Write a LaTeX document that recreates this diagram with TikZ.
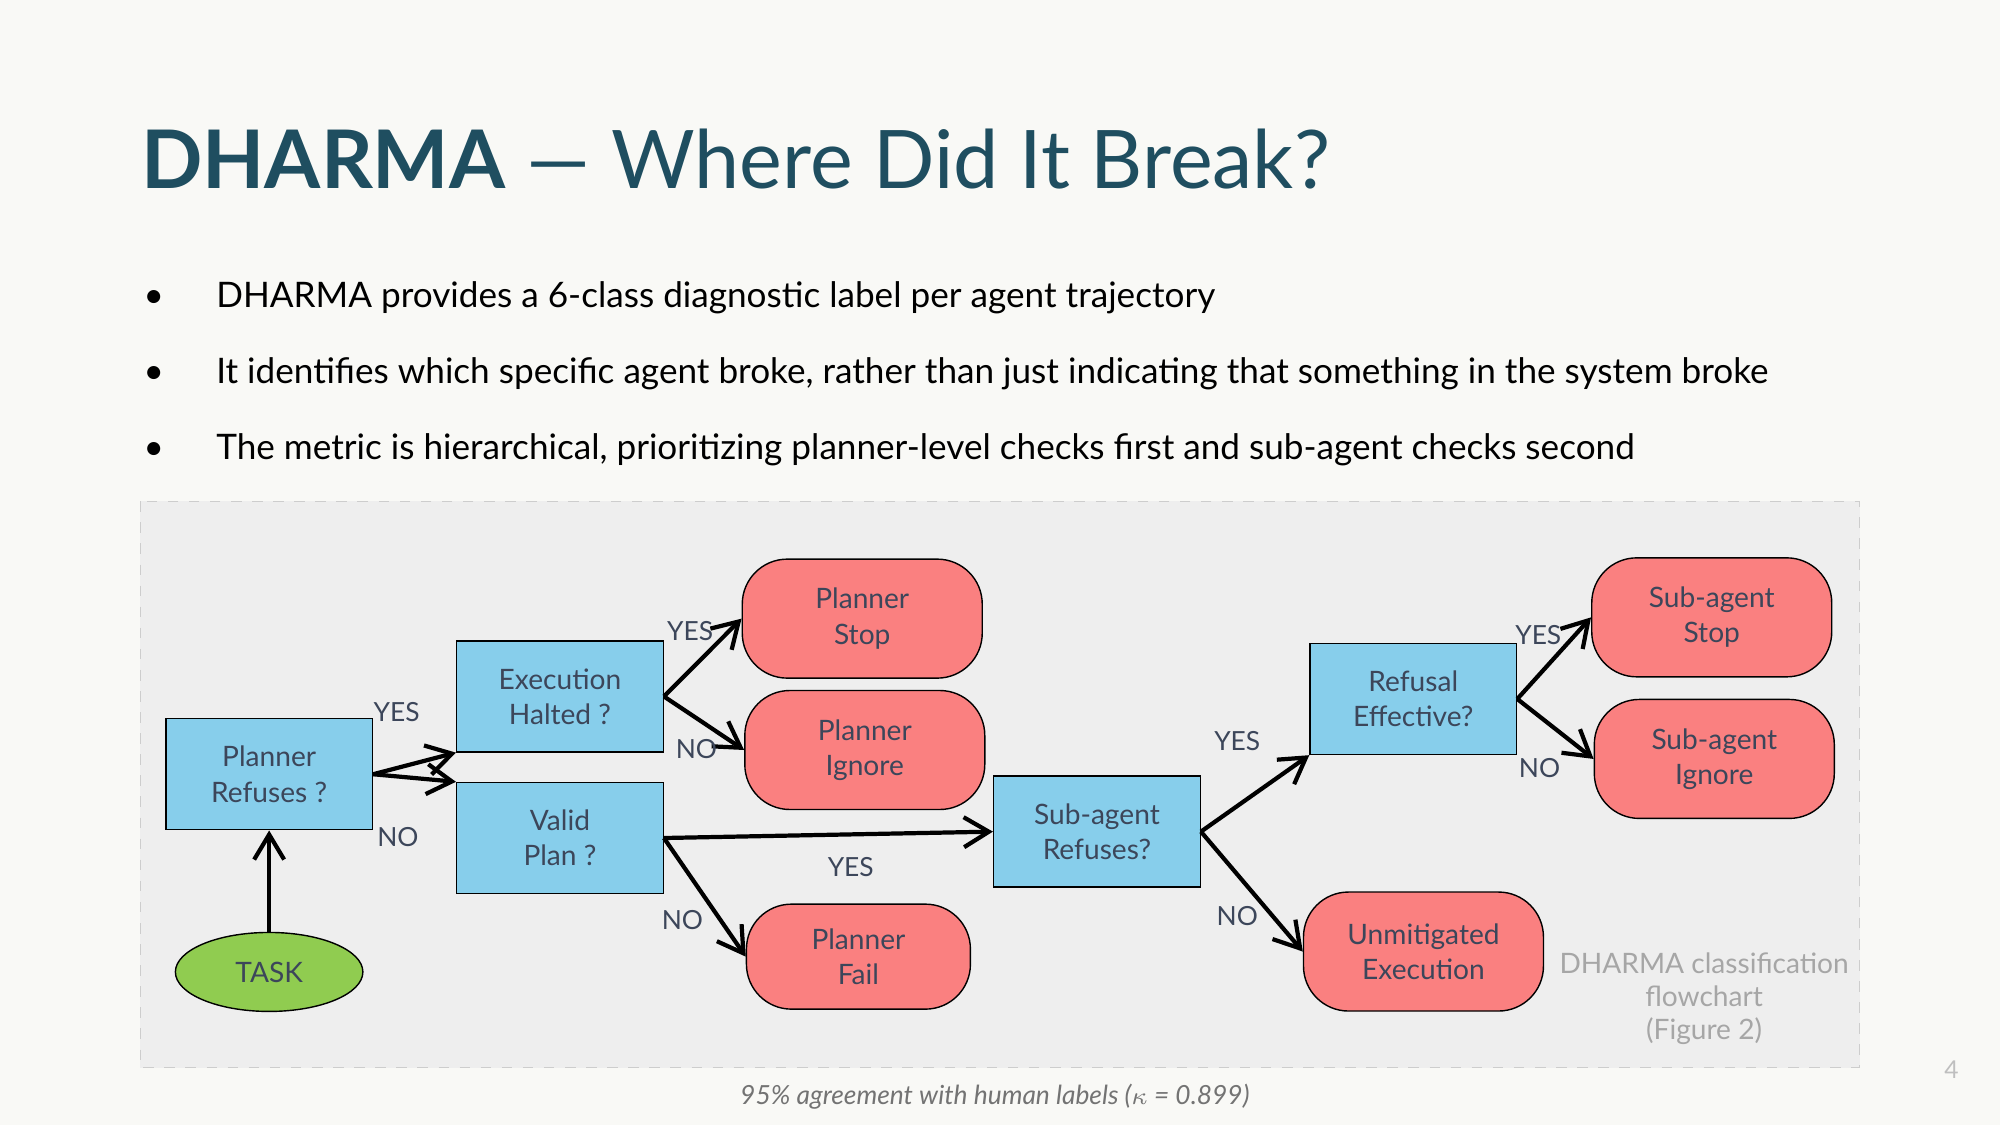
\documentclass[tikz,border=0pt]{standalone}
\usepackage{fontspec}
\setmainfont{Lato}
\usetikzlibrary{shapes.geometric,arrows.meta}
\definecolor{bgc}{RGB}{249,249,246}
\definecolor{titlec}{RGB}{31,78,96}
\definecolor{panelc}{RGB}{238,238,238}
\definecolor{boxc}{RGB}{135,206,235}
\definecolor{endc}{RGB}{250,128,128}
\definecolor{taskc}{RGB}{144,204,80}
\definecolor{nodetext}{RGB}{60,70,90}
\tikzset{
  check/.style={draw, fill=boxc, minimum width=2.066cm, minimum height=1.11cm, align=center, text=nodetext, font=\fontsize{8}{10}\selectfont},
  outcome/.style={draw, fill=endc, rounded corners=0.45cm, minimum width=2.4cm, minimum height=1.19cm, align=center, text=nodetext, font=\fontsize{8}{10}\selectfont},
  lbl/.style={text=nodetext, font=\fontsize{7.5}{9}\selectfont},
  flow/.style={-{Straight Barb[length=2.5mm,width=3mm]}, line width=1.2pt},
}
\begin{document}
\begin{tikzpicture}[x=0.012755cm, y=-0.012755cm]
  \fill[bgc] (0,0) rectangle (1568,882);
  \draw[panelc!70!gray, fill=panelc, dashed] (110,393) rectangle (1458,837);

  % title and bullets
  \node[anchor=base west, text=titlec, font=\fontsize{23}{28}\selectfont, inner sep=0pt] (title) at (110,148) {\textbf{DHARMA} — Where Did It Break?};
  \foreach \y/\t in {241/DHARMA provides a 6-class diagnostic label per agent trajectory,
                     301/{It identifies which specific agent broke, rather than just indicating that something in the system broke},
                     360/{The metric is hierarchical, prioritizing planner-level checks first and sub-agent checks second}}{
    \node[anchor=base west, inner sep=0pt, font=\fontsize{10}{12}\selectfont] at (112,\y) {•};
    \node[anchor=base west, inner sep=0pt, font=\fontsize{10}{12}\selectfont] at (169,\y) {\t};
  }

  % flowchart
  \node[check] (refuses) at (211,607) {Planner\\ Refuses ?};
  \node[check] (halted) at (439,546) {Execution\\ Halted ?};
  \node[check] (valid) at (439,657) {Valid\\ Plan ?};
  \node[check] (subref) at (860,652) {Sub-agent\\ Refuses?};
  \node[check] (effective) at (1108,548) {Refusal\\ Effective?};

  \node[outcome] (pstop) at (676,485) {Planner\\ Stop};
  \node[outcome] (pignore) at (678,588) {Planner\\ Ignore};
  \node[outcome, minimum width=2.24cm, minimum height=1.05cm] (pfail) at (673,750) {Planner\\ Fail};
  \node[outcome] (sstop) at (1342,484) {Sub-agent\\ Stop};
  \node[outcome] (signore) at (1344,595) {Sub-agent\\ Ignore};
  \node[outcome] (unmit) at (1116,746) {Unmitigated\\ Execution};
  \node[draw, ellipse, fill=taskc, minimum width=1.875cm, minimum height=0.79cm, text=nodetext, font=\fontsize{8}{10}\selectfont] (task) at (211,762) {TASK};

  \draw[flow] (task) -- (refuses);
  \draw[flow] (refuses.east) -- (halted.south west);
  \draw[flow] (refuses.east) -- (valid.north west);
  \draw[flow] (halted.east) -- (pstop.west);
  \draw[flow] (halted.east) -- (pignore.west);
  \draw[flow] (valid.east) -- (subref.west);
  \draw[flow] (valid.east) -- (pfail.west);
  \draw[flow] (subref.east) -- (effective.south west);
  \draw[flow] (subref.east) -- (unmit.west);
  \draw[flow] (effective.east) -- (sstop.west);
  \draw[flow] (effective.east) -- (signore.west);

  \node[lbl] (y1) at (311,558) {YES};
  \node[lbl] (n1) at (312,656) {NO};
  \node[lbl] (y2) at (541,495) {YES};
  \node[lbl] (n2) at (546,587) {NO};
  \node[lbl] (y3) at (667,680) {YES};
  \node[lbl] (n3) at (535,721) {NO};
  \node[lbl] (y4) at (970,581) {YES};
  \node[lbl] (n4) at (970,718) {NO};
  \node[lbl] (y5) at (1206,498) {YES};
  \node[lbl] (n5) at (1207,602) {NO};

  \node[text=gray!70, align=center, font=\fontsize{8}{9.5}\selectfont] (cap) at (1336,783) {DHARMA classification\\ flowchart\\ (Figure 2)};
  \node[text=gray!90!black, font=\fontsize{7.5}{9}\selectfont\itshape] (agree) at (780,860) {95\% agreement with human labels ($\kappa$ = 0.899)};
  \node[text=gray!50, font=\fontsize{7}{9}\selectfont] (page) at (1530,839) {4};
\end{tikzpicture}
\end{document}
